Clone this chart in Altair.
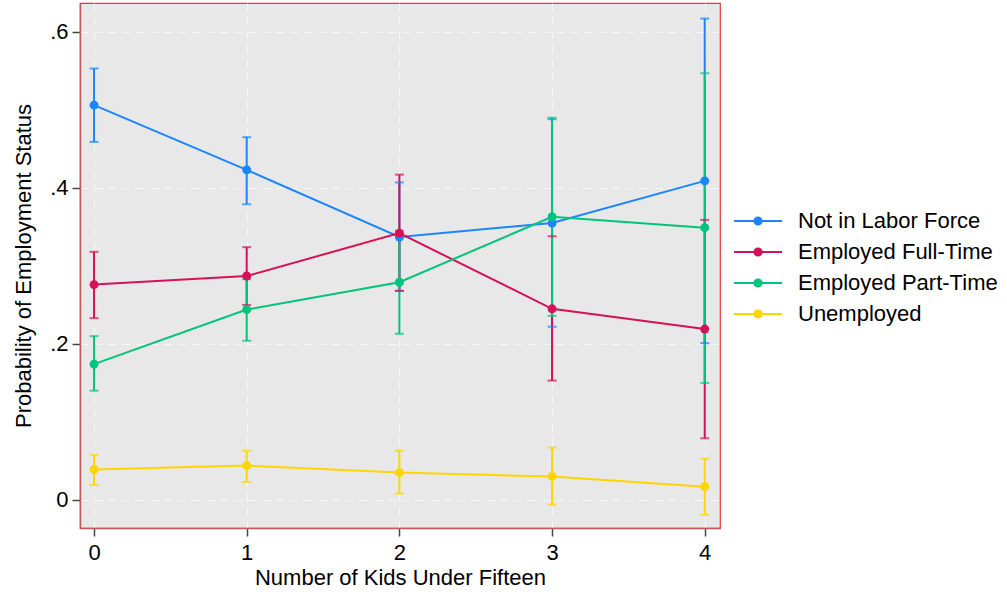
import altair as alt
import pandas as pd

# Predicted probabilities of employment status by number of kids under fifteen,
# with 95% confidence intervals.
kids = [0, 1, 2, 3, 4]
series_names = ["Not in Labor Force", "Employed Full-Time", "Employed Part-Time", "Unemployed"]
series_colors = ["#1A85FF", "#D41159", "#00C47E", "#FFD500"]

nilf_est = [0.506, 0.423, 0.337, 0.355, 0.409]
nilf_lo = [0.459, 0.379, 0.268, 0.222, 0.201]
nilf_hi = [0.553, 0.465, 0.407, 0.488, 0.617]

eft_est = [0.276, 0.287, 0.342, 0.245, 0.219]
eft_lo = [0.233, 0.250, 0.268, 0.153, 0.079]
eft_hi = [0.318, 0.324, 0.417, 0.338, 0.359]

ept_est = [0.174, 0.244, 0.279, 0.363, 0.349]
ept_lo = [0.140, 0.204, 0.213, 0.236, 0.150]
ept_hi = [0.210, 0.283, 0.345, 0.490, 0.547]

unemp_est = [0.039, 0.044, 0.035, 0.030, 0.017]
unemp_lo = [0.019, 0.023, 0.008, -0.006, -0.019]
unemp_hi = [0.058, 0.063, 0.063, 0.067, 0.053]

y_ticks = [0, 0.2, 0.4, 0.6]

rows = []
for name, est, lo, hi in zip(
    series_names,
    [nilf_est, eft_est, ept_est, unemp_est],
    [nilf_lo, eft_lo, ept_lo, unemp_lo],
    [nilf_hi, eft_hi, ept_hi, unemp_hi],
):
    for k, e, l, h in zip(kids, est, lo, hi):
        rows.append({"series": name, "kids": k, "est": e, "lo": l, "hi": h})
df = pd.DataFrame(rows)

FONT = "Liberation Sans"

x_enc = alt.X(
    "kids:Q",
    title="Number of Kids Under Fifteen",
    scale=alt.Scale(domain=[-0.092, 4.1], nice=False, zero=False),
    axis=alt.Axis(values=kids, format="d", labelPadding=6, titlePadding=4),
)
y_scale = alt.Scale(domain=[-0.036, 0.637], nice=False, zero=False)
y_axis = alt.Axis(
    values=y_ticks,
    labelExpr="datum.value == 0 ? '0' : replace(format(datum.value, '.1f'), '0.', '.')",
    labelPadding=4,
    titlePadding=14,
)

color_scale = alt.Scale(domain=series_names, range=series_colors)
col_nolegend = alt.Color("series:N", scale=color_scale, legend=None)

# legend symbol: a short line with a dot on it (dot built from concentric rings)
sym_path = (
    "M-2.4,0H2.4"
    "M0.36,0A0.36,0.36,0,1,1,-0.36,0A0.36,0.36,0,1,1,0.36,0"
    "M0.22,0A0.22,0.22,0,1,1,-0.22,0A0.22,0.22,0,1,1,0.22,0"
    "M0.08,0A0.08,0.08,0,1,1,-0.08,0A0.08,0.08,0,1,1,0.08,0"
)
col_legend = alt.Color(
    "series:N",
    scale=color_scale,
    legend=alt.Legend(
        title=None,
        orient="none",
        legendX=667,
        legendY=207,
        symbolType=sym_path,
        symbolSize=400,
        symbolStrokeWidth=2,
        labelOffset=29,
        labelLimit=0,
        rowPadding=9,
        padding=0,
        labelFont=FONT,
        labelFontSize=22,
        labelColor="#000000",
    ),
)

base = alt.Chart(df)

ci = base.mark_rule(strokeWidth=2).encode(
    x=x_enc,
    y=alt.Y("lo:Q", scale=y_scale, axis=y_axis, title="Probability of Employment Status"),
    y2="hi:Q",
    color=col_nolegend,
)
cap_lo = base.mark_tick(orient="horizontal", size=9, thickness=2).encode(
    x="kids:Q", y=alt.Y("lo:Q", scale=y_scale), color=col_nolegend
)
cap_hi = base.mark_tick(orient="horizontal", size=9, thickness=2).encode(
    x="kids:Q", y=alt.Y("hi:Q", scale=y_scale), color=col_nolegend
)
lines = base.mark_line(strokeWidth=2).encode(
    x="kids:Q", y=alt.Y("est:Q", scale=y_scale), color=col_legend, detail="series:N"
)
points = base.mark_circle(size=80, opacity=1).encode(
    x="kids:Q", y=alt.Y("est:Q", scale=y_scale), color=col_nolegend
)

chart = (
    alt.layer(lines, ci, cap_lo, cap_hi, points)
    .properties(width=640, height=525, padding={"left": 12, "top": 3, "right": 5, "bottom": 5})
    .configure_view(fill="#E8E8E8", stroke="#E63A3A", strokeWidth=1.2)
    .configure_axis(
        labelFont=FONT,
        labelFontSize=22,
        labelColor="#000000",
        titleFont=FONT,
        titleFontSize=22,
        titleFontWeight="normal",
        titleColor="#000000",
        grid=True,
        gridColor="#F7F7F7",
        gridDash=[8, 6],
        gridWidth=1,
        tickSize=8,
        tickColor="#444444",
        tickWidth=1.5,
        domain=True,
        domainColor="#C4585A",
        domainWidth=1.5,
    )
)

chart.save("out.html", embed_options={"renderer": "svg", "actions": False})
